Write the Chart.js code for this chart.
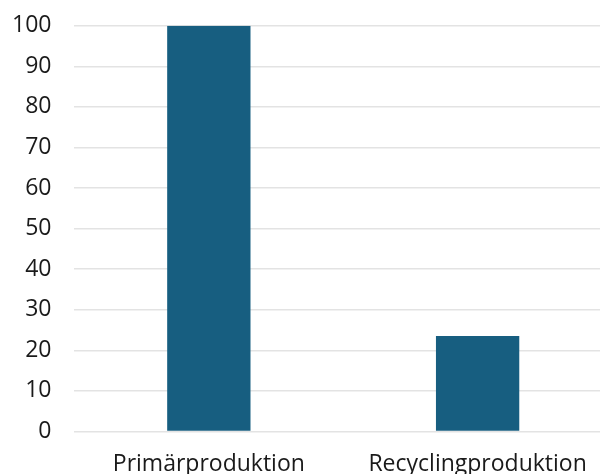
<!DOCTYPE html>
<html>
<head>
<meta charset="utf-8">
<script src="https://cdn.jsdelivr.net/npm/chart.js@4"></script>
<style>
  html, body { margin: 0; padding: 0; overflow: hidden; background: #fff; }
  #wrap { width: 612px; height: 474px; overflow: hidden; }
  #chart { margin-top: -11px; display: block; }
</style>
</head>
<body>
<div id="wrap"><canvas id="chart" width="612" height="508"></canvas></div>
<script>
const categories = ['Primärproduktion', 'Recyclingproduktion'];
const values = [100, 23.5];
const yTicks = [0, 10, 20, 30, 40, 50, 60, 70, 80, 90, 100];

const barColor = 'rgb(23, 94, 128)';

const ctx = document.querySelector('#chart');

const chart = new Chart(ctx, {
  type: 'bar',
  data: {
    labels: categories,
    datasets: [{
      data: values,
      backgroundColor: barColor,
      barPercentage: 0.31,
      categoryPercentage: 1
    }]
  },
  options: {
    responsive: false,
    animation: false,
    layout: {
      padding: { top: 3, left: -11, right: 0, bottom: 0 }
    },
    plugins: {
      legend: { display: false },
      tooltip: { enabled: false }
    },
    scales: {
      x: {
        grid: { display: false, drawTicks: false },
        border: { display: false },
        ticks: {
          color: '#1a1a1a',
          font: { family: 'Open Sans', size: 23 },
          padding: 19,
          maxRotation: 0
        }
      },
      y: {
        min: 0,
        max: 100,
        afterBuildTicks: (axis) => {
          axis.ticks = yTicks.map(v => ({ value: v }));
        },
        grid: { color: '#e3e3e3', lineWidth: 1.5, drawTicks: false },
        border: { display: false },
        ticks: {
          color: '#1a1a1a',
          font: { family: 'Open Sans', size: 23 },
          padding: 23
        }
      }
    }
  }
});
</script>
</body>
</html>
